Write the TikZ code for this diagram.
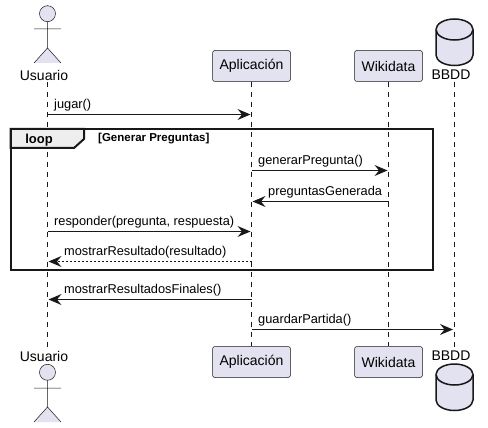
\documentclass[tikz,border=0pt]{standalone}
\usepackage{fontspec}
\usepackage{xcolor}
\setmainfont{Liberation Sans}
\usetikzlibrary{arrows.meta}
\definecolor{partfill}{HTML}{E2E2F0}
\definecolor{partline}{HTML}{181818}
\definecolor{tabfill}{HTML}{EEEEEE}
\tikzset{
  partbox/.style={draw=partline,line width=0.5pt,fill=partfill,rounded corners=2.5pt,font=\fontsize{14}{16}\selectfont,minimum height=31pt,inner sep=0pt},
  partname/.style={font=\fontsize{14}{16}\selectfont,inner sep=0pt,minimum height=14pt},
  lifeline/.style={draw=partline,line width=0.5pt,dash pattern=on 5pt off 5pt},
  figure/.style={draw=partline,line width=0.5pt,fill=partfill},
  dbshape/.style={draw=partline,line width=1.5pt,fill=partfill},
  loopline/.style={draw=partline,line width=2pt},
  msg/.style={draw=partline,line width=1pt,-{Stealth[length=13pt,width=11pt,inset=4.5pt,line width=0pt]}},
  msgback/.style={msg,dash pattern=on 2pt off 2pt},
  msgtext/.style={font=\fontsize{12.8}{15}\selectfont,inner sep=0pt,anchor=west},
}
\begin{document}
\begin{tikzpicture}[x=1pt,y=-1pt]
\useasboundingbox (0,0) rectangle (488,428);
% participants, top and bottom
\node[partname] (usuTop) at (44,75) {Usuario};
\node[partname] (usuBot) at (44,356) {Usuario};
\node[partbox,minimum width=78pt] (appTop) at (251.5,66) {Aplicación};
\node[partbox,minimum width=78pt] (appBot) at (251.5,362) {Aplicación};
\node[partbox,minimum width=68pt] (wikiTop) at (388.5,66) {Wikidata};
\node[partbox,minimum width=68pt] (wikiBot) at (388.5,362) {Wikidata};
\node[partname] (dbTop) at (451,75) {BBDD};
\node[partname] (dbBot) at (451,356) {BBDD};
% lifelines
\coordinate (usuStart) at (47.5,82);
\coordinate (usuEnd) at (47.5,347);
\coordinate (dbStart) at (454.5,82);
\coordinate (dbEnd) at (454.5,347);
\draw[lifeline] (usuStart) -- (usuEnd);
\draw[lifeline] (appTop) -- (appBot);
\draw[lifeline] (wikiTop) -- (wikiBot);
\draw[lifeline] (dbStart) -- (dbEnd);
% actors
\draw[figure] (47.5,13.7) circle (8);
\draw[figure] (47.5,21.7) -- (47.5,48) (34,29) -- (61,29) (34,63) -- (47.5,48) -- (61,63);
\draw[figure] (47.5,372.3) circle (8);
\draw[figure] (47.5,380.3) -- (47.5,407) (34,388) -- (61,388) (34,422) -- (47.5,407) -- (61,422);
% databases
\draw[dbshape] (436,29.5) arc[start angle=180,end angle=360,x radius=18.5,y radius=10.5] -- (473,55) arc[start angle=0,end angle=180,x radius=18.5,y radius=10.5] -- cycle;
\draw[dbshape] (436,29.5) arc[start angle=180,end angle=0,x radius=18.5,y radius=10.5];
\draw[dbshape] (436,374.5) arc[start angle=180,end angle=360,x radius=18.5,y radius=10.5] -- (473,400) arc[start angle=0,end angle=180,x radius=18.5,y radius=10.5] -- cycle;
\draw[dbshape] (436,374.5) arc[start angle=180,end angle=0,x radius=18.5,y radius=10.5];
% loop frame
\draw[loopline,fill=tabfill] (10.5,129) -- (84,129) -- (84,139) -- (74,148) -- (10.5,148) -- cycle;
\draw[loopline] (10.5,129) rectangle (432.5,269.5);
\node[font=\bfseries\fontsize{13}{15}\selectfont,inner sep=0pt] (loopTag) at (39,140) {loop};
\node[font=\bfseries\fontsize{11.5}{13}\selectfont,inner sep=0pt,anchor=west] (loopCond) at (98,139) {[Generar Preguntas]};
% messages
\coordinate (jugarA) at (47.5,114.5);
\coordinate (jugarB) at (250.5,114.5);
\draw[msg] (jugarA) -- (jugarB);
\node[msgtext] (jugarT) at (54,105) {jugar()};
\coordinate (generarA) at (251.5,170.5);
\coordinate (generarB) at (387.5,170.5);
\draw[msg] (generarA) -- (generarB);
\node[msgtext] (generarT) at (258,161) {generarPregunta()};
\coordinate (preguntasA) at (388.5,201.5);
\coordinate (preguntasB) at (252.5,201.5);
\draw[msg] (preguntasA) -- (preguntasB);
\node[msgtext] (preguntasT) at (268,192) {preguntasGenerada};
\coordinate (responderA) at (47.5,231.5);
\coordinate (responderB) at (250.5,231.5);
\draw[msg] (responderA) -- (responderB);
\node[msgtext] (responderT) at (54,222) {responder(pregunta, respuesta)};
\coordinate (resultadoA) at (251.5,261.5);
\coordinate (resultadoB) at (48.5,261.5);
\draw[msgback] (resultadoA) -- (resultadoB);
\node[msgtext] (resultadoT) at (64,252) {mostrarResultado(resultado)};
\coordinate (finalesA) at (251.5,299.5);
\coordinate (finalesB) at (48.5,299.5);
\draw[msg] (finalesA) -- (finalesB);
\node[msgtext] (finalesT) at (64,290) {mostrarResultadosFinales()};
\coordinate (guardarA) at (251.5,329.5);
\coordinate (guardarB) at (453,329.5);
\draw[msg] (guardarA) -- (guardarB);
\node[msgtext] (guardarT) at (258,320) {guardarPartida()};
\end{tikzpicture}
\end{document}
